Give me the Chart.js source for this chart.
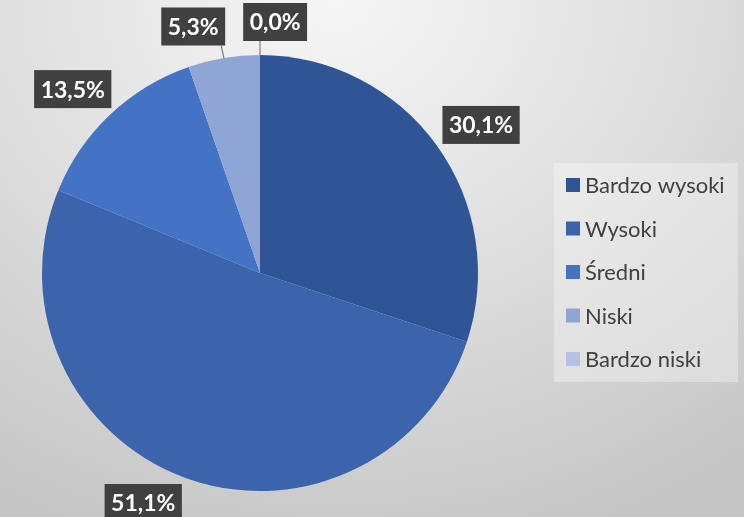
<!DOCTYPE html>
<html>
<head>
<meta charset="utf-8">
<script src="https://cdn.jsdelivr.net/npm/chart.js@4"></script>
<style>
html,body{margin:0;padding:0;}
body{width:744px;height:517px;overflow:hidden;
background:radial-gradient(ellipse 90% 110% at 45% 0%, #f6f6f6 0%, #e4e4e4 40%, #d2d2d2 75%, #c6c6c6 100%);}
#wrap{position:relative;width:744px;height:517px;}
</style>
</head>
<body>
<div id="wrap"><canvas id="c" width="744" height="517"></canvas></div>
<script>
const categories = ["Bardzo wysoki", "Wysoki", "Średni", "Niski", "Bardzo niski"];
const values = [30.1, 51.1, 13.5, 5.3, 0.0];
const valueLabels = ["30,1%", "51,1%", "13,5%", "5,3%", "0,0%"];
const colors = ["#2F5597", "#3B64AD", "#4472C4", "#8FA5D6", "#B4C3E5"];

const labelFont = "bold 23px Lato";
const legendFont = "22px Lato";

const dataLabelPlugin = {
  id: 'dataLabels',
  afterDatasetsDraw(chart) {
    const ctx = chart.ctx;
    const meta = chart.getDatasetMeta(0);
    ctx.save();
    ctx.font = labelFont;
    const boxes = [];
    const limit = chart.height + 5;
    meta.data.forEach((arc, i) => {
      const p = arc.getProps(['x','y','startAngle','endAngle','outerRadius'], true);
      const mid = (p.startAngle + p.endAngle) / 2;
      const tw = ctx.measureText(valueLabels[i]).width;
      const w = tw + 13, h = 38;
      const r = p.outerRadius + 16;
      const ax = p.x + Math.cos(mid) * r, ay = p.y + Math.sin(mid) * r;
      let cx = ax + Math.cos(mid) * w / 2, cy = ay + Math.sin(mid) * h / 2;
      if (cy + h / 2 > limit) {
        // keep inside: slide along the circle so the inner corner stays just outside the pie
        cy = limit - h / 2;
        const top = cy - h / 2;
        const rr = p.outerRadius + 7;
        const dy = top - p.y;
        const dx = Math.sqrt(Math.max(rr * rr - dy * dy, 0));
        if (Math.cos(mid) < 0) cx = p.x - dx - w / 2; else cx = p.x + dx + w / 2;
      }
      boxes.push({i, cx, cy, w, h, mid, ex: p.x + Math.cos(mid) * p.outerRadius, ey: p.y + Math.sin(mid) * p.outerRadius, moved:false});
    });
    for (let k = 0; k < 4; k++) {
      for (let a = 0; a < boxes.length; a++) for (let b = a + 1; b < boxes.length; b++) {
        const A = boxes[a], B = boxes[b];
        const ox = (A.w + B.w) / 2 + 18 - Math.abs(A.cx - B.cx);
        const oy = (A.h + B.h) / 2 - Math.abs(A.cy - B.cy);
        if (ox > 0 && oy > 0) {
          const s = A.cx <= B.cx ? -1 : 1;
          A.cx += s * ox * 0.6; B.cx -= s * ox * 0.4;
          A.cy += 3; B.cy += 2;
          A.moved = B.moved = true;
        }
      }
    }
    boxes.forEach(bx => {
      const x0 = bx.cx - bx.w / 2, y0 = bx.cy - bx.h / 2;
      if (bx.moved) {
        const px = Math.min(Math.max(bx.ex, x0 + 4), x0 + bx.w - 4);
        const py = Math.min(Math.max(bx.ey, y0), y0 + bx.h);
        ctx.strokeStyle = '#7f7f7f';
        ctx.lineWidth = 1.2;
        ctx.beginPath(); ctx.moveTo(bx.ex, bx.ey); ctx.lineTo(px, py); ctx.stroke();
      }
      ctx.fillStyle = '#404040';
      ctx.fillRect(x0, y0, bx.w, bx.h);
      ctx.fillStyle = '#ffffff';
      ctx.textAlign = 'center';
      ctx.textBaseline = 'middle';
      ctx.fillText(valueLabels[bx.i], bx.cx, bx.cy + 1);
    });
    ctx.restore();
  }
};

const legendPlugin = {
  id: 'customLegend',
  afterDraw(chart) {
    const ctx = chart.ctx;
    ctx.save();
    const lx = 554, ly = 163, lw = 184, lh = 219;
    ctx.fillStyle = 'rgba(255,255,255,0.33)';
    ctx.fillRect(lx, ly, lw, lh);
    ctx.font = legendFont;
    ctx.textBaseline = 'middle';
    ctx.textAlign = 'left';
    categories.forEach((c, i) => {
      const y = 185 + i * 43.5;
      ctx.fillStyle = colors[i];
      ctx.fillRect(566, y - 7, 14, 14);
      ctx.fillStyle = '#404040';
      ctx.fillText(c, 585, y + 1);
    });
    ctx.restore();
  }
};

new Chart(document.getElementById('c'), {
  type: 'pie',
  data: {
    labels: categories,
    datasets: [{ data: values, backgroundColor: colors, borderWidth: 0 }]
  },
  options: {
    responsive: false,
    animation: false,
    layout: { padding: { left: 42, right: 266, top: 55, bottom: 26 } },
    plugins: { legend: { display: false }, tooltip: { enabled: false } }
  },
  plugins: [dataLabelPlugin, legendPlugin]
});
</script>
</body>
</html>
